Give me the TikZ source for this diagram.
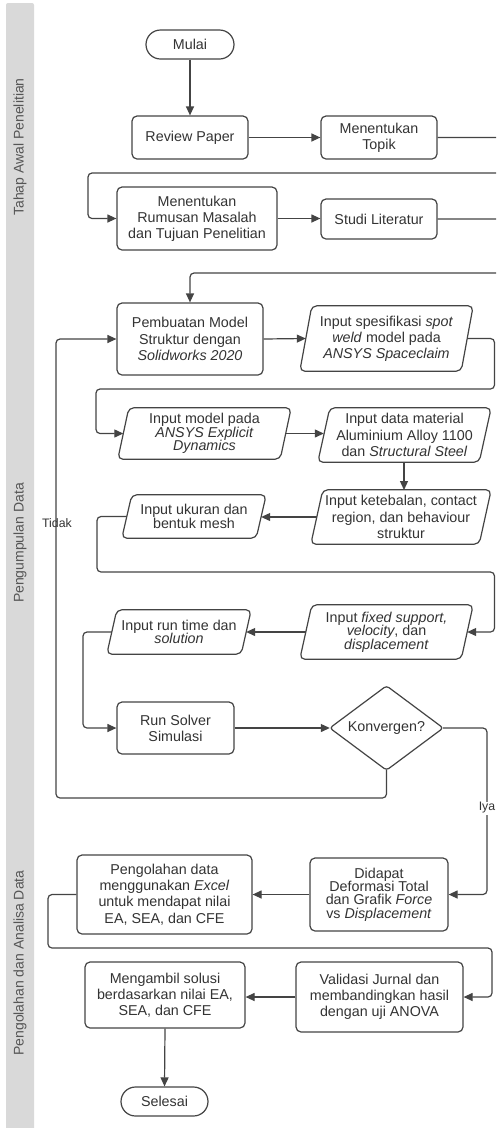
\documentclass[tikz,border=0pt]{standalone}
\usepackage{fontspec}
\setmainfont{Liberation Sans}
\usetikzlibrary{arrows.meta}
\definecolor{ln}{HTML}{444444}
\definecolor{tx}{HTML}{333333}
\definecolor{bandc}{HTML}{D9D9D9}
\definecolor{lbl}{HTML}{555555}
\begin{document}
\begin{tikzpicture}[x=1pt,y=-1pt,
  every node/.style={text=tx, font=\fontsize{14.3}{16.2}\selectfont, align=center, inner sep=0pt},
  tight/.style={font=\fontsize{14.3}{13.4}\selectfont},
  box/.style={draw=ln, line width=1.2pt, rounded corners=5pt},
  term/.style={draw=ln, line width=1.2pt, rounded corners=14.5pt, minimum width=88pt, minimum height=29pt},
  io/.style={draw=none},
  shapeline/.style={draw=ln, line width=1.2pt, rounded corners=5pt},
  conn/.style={draw=ln, line width=1.2pt, rounded corners=4pt, -{Triangle[length=9pt,width=8pt]}},
  lane/.style={rotate=90, text=lbl, font=\fontsize{14}{16}\selectfont},
  edgelbl/.style={font=\fontsize{12.3}{14}\selectfont}
]
\useasboundingbox (0,0) rectangle (496,1128);
\clip (0,0) rectangle (496,1128);
\fill[white] (0,0) rectangle (496,1128);
% lane band
\fill[bandc, rounded corners=2pt] (6,3) rectangle (34,1135);
\node[lane] (l1) at (20,147) {Tahap Awal Penelitian};
\node[lane] (l2) at (20,543) {Pengumpulan Data};
\node[lane] (l3) at (20,963) {Pengolahan dan Analisa Data};

% nodes
\node[term] (mulai) at (190,44.5) {Mulai};
\node[box, minimum width=116pt, minimum height=43pt] (review) at (190,137.5) {Review Paper};
\node[box, minimum width=116pt, minimum height=43pt] (topik) at (379,137.5) {Menentukan\\Topik};
\node[box, minimum width=160pt, minimum height=63pt] (rumusan) at (197,218.5) {Menentukan\\Rumusan Masalah\\dan Tujuan Penelitian};
\node[box, minimum width=116pt, minimum height=40pt] (studi) at (379,219) {Studi Literatur};
\node[box, minimum width=146pt, minimum height=72pt] (pemb) at (190,339) {Pembuatan Model\\Struktur dengan\\\textit{Solidworks 2020}};

\node[io, minimum width=173pt, minimum height=65pt] (spot) at (386.5,338.5) {Input spesifikasi \textit{spot}\\\textit{weld} model pada\\\textit{ANSYS Spaceclaim}};
\draw[shapeline] ([xshift=12pt]spot.north west) -- (spot.north east) -- ([xshift=-12pt]spot.south east) -- (spot.south west) -- cycle;

\node[io, tight, minimum width=173pt, minimum height=51pt] (expl) at (204.5,433.5) {Input model pada\\\textit{ANSYS Explicit}\\\textit{Dynamics}};
\draw[shapeline] ([xshift=11pt]expl.north west) -- (expl.north east) -- ([xshift=-11pt]expl.south east) -- (expl.south west) -- cycle;

\node[io, minimum width=173pt, minimum height=54pt] (mat) at (404.5,435) {Input data material\\Aluminium Alloy 1100\\dan \textit{Structural Steel}};
\draw[shapeline] ([xshift=12pt]mat.north west) -- (mat.north east) -- ([xshift=-12pt]mat.south east) -- (mat.south west) -- cycle;

\node[io, minimum width=180pt, minimum height=54pt] (teb) at (401,517) {Input ketebalan, contact\\region, dan behaviour\\struktur};
\draw[shapeline] ([xshift=12pt]teb.north west) -- (teb.north east) -- ([xshift=-12pt]teb.south east) -- (teb.south west) -- cycle;

\node[io, tight, minimum width=144pt, minimum height=43pt] (mesh) at (194,516.5) {Input ukuran dan\\bentuk mesh};
\draw[shapeline] ([xshift=10pt]mesh.north west) -- (mesh.north east) -- ([xshift=-10pt]mesh.south east) -- (mesh.south west) -- cycle;

\node[io, tight, minimum width=173pt, minimum height=54pt] (fixed) at (386.5,632) {Input \textit{fixed support,}\\\textit{velocity}, dan\\\textit{displacement}};
\draw[shapeline] ([xshift=12pt]fixed.north west) -- (fixed.north east) -- ([xshift=-12pt]fixed.south east) -- (fixed.south west) -- cycle;

\node[io, tight, minimum width=144pt, minimum height=44pt] (rt) at (179,632) {Input run time dan\\\textit{solution}};
\draw[shapeline] ([xshift=10pt]rt.north west) -- (rt.north east) -- ([xshift=-10pt]rt.south east) -- (rt.south west) -- cycle;

\node[box, minimum width=117pt, minimum height=52pt] (solver) at (175.5,728) {Run Solver\\Simulasi};

\node[io, minimum width=113pt, minimum height=84pt] (konv) at (386.5,728) {Konvergen?};
\draw[shapeline, rounded corners=3pt] (konv.north) -- (konv.east) -- (konv.south) -- (konv.west) -- cycle;

\node[box, tight, minimum width=138pt, minimum height=73pt] (didapat) at (379,894.5) {Didapat\\Deformasi Total\\dan Grafik \textit{Force}\\vs \textit{Displacement}};
\node[box, minimum width=175pt, minimum height=79pt] (peng) at (164.5,894.5) {Pengolahan data\\menggunakan \textit{Excel}\\untuk mendapat nilai\\EA, SEA, dan CFE};
\node[box, minimum width=167pt, minimum height=70pt] (val) at (379.5,997) {Validasi Jurnal dan\\membandingkan hasil\\dengan uji ANOVA};
\node[box, minimum width=160pt, minimum height=66pt] (ambil) at (165,995) {Mengambil solusi\\berdasarkan nilai EA,\\SEA, dan CFE};
\node[term, minimum width=87pt] (selesai) at (164.5,1101.5) {Selesai};

% connectors
\draw[conn] (mulai.south) -- (review.north);
\draw[conn] (review.east) -- (topik.west);
\draw[conn] (topik.east) -- ++(70,0) |- (88,173) |- (rumusan.west);
\draw[conn] (rumusan.east) -- (rumusan.east -| studi.west);
\draw[conn] (studi.east) -- ++(70,0) |- (190,273) -- (pemb.north);
\draw[conn] (pemb.east) -- ([xshift=6pt]spot.west);
\draw[conn] ([xshift=-6pt]spot.east) -| (494.5,389) -| (96,433.5) -- ([xshift=5.5pt]expl.west);
\draw[conn] ([xshift=-5.5pt]expl.east) -- ([xshift=6pt]expl.east -| mat.west);
\draw[conn] (mat.south -| 404,0) -- (404,490);
\draw[conn] ([xshift=6pt]teb.west) -- ([xshift=-5pt]teb.west -| mesh.east);
\draw[conn] ([xshift=5pt]mesh.west) -| (97,572) -| (494.5,632) -- ([xshift=-6pt]fixed.east);
\draw[conn] ([xshift=6pt]fixed.west) -- ([xshift=-5pt]rt.east);
\draw[conn] ([xshift=5pt]rt.west) -| (83,728) -- (solver.west);
\draw[conn] (solver.east) -- (konv.west);
\draw[conn] (konv.south) |- (56,798) |- (pemb.west);
\draw[conn] (konv.east) -- (487,728) |- (didapat.east);
\draw[conn] (didapat.west) -- (peng.east);
\draw[conn] (peng.west) -| (48,948) -| (492,997) -- (val.east);
\draw[conn] (val.west) -- (val.west -| ambil.east);
\draw[conn] (ambil.south) -- (selesai.north);

% labels
\node[edgelbl] (tidak) at (57,523) {Tidak};
\node[edgelbl, fill=white, inner sep=1pt] (iya) at (487,808) {Iya};
\end{tikzpicture}
\end{document}
